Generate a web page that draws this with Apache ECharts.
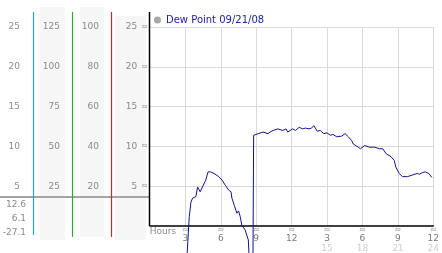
<!DOCTYPE html>
<html><head><meta charset="utf-8">
<script src="https://cdn.jsdelivr.net/npm/echarts@6/dist/echarts.min.js"></script>
<style>html,body{margin:0;padding:0;background:#fff}#c{width:442px;height:253px}</style>
</head><body><div id="c"></div>
<script>
const seriesName = 'Dew Point 09/21/08';
const hours = [2.8, 3.05, 3.28, 3.33, 3.47, 3.61, 3.89, 4.03, 4.11, 4.25, 4.44, 4.72, 4.92, 5.14, 5.42, 5.83, 6.11, 6.39, 6.67, 6.86, 6.94, 7.14, 7.36, 7.5, 7.64, 7.78, 8.06, 8.33, 8.52, 8.68,
  8.78, 8.83, 9.17, 9.58, 10.0, 10.17, 10.42, 10.58, 10.83, 11.25, 11.53, 11.67, 12.08, 12.33, 12.64, 12.92, 13.17, 13.47, 13.67, 13.89, 14.17, 14.42, 14.72, 15.0, 15.14, 15.28, 15.5, 15.83, 16.25, 16.53, 16.81,
  17.08, 17.22, 17.64, 17.83, 18.19, 18.61, 19.03, 19.44, 19.72, 20.0, 20.42, 20.69, 20.83, 21.11, 21.39, 21.81, 22.22, 22.64, 22.83, 23.06, 23.33, 23.61, 23.89];
const dewPoint = [-27.1, -6, 0.0, 1.2, 3.0, 3.5, 3.7, 4.9, 5.1, 4.3, 4.9, 5.75, 6.8, 6.8, 6.6, 6.2, 5.75, 5.1, 4.5, 4.3, 3.5, 2.6, 1.6, 1.9, 1.2, 0.1, -0.5, -1.75, -8, -16,
  11.4, 11.4, 11.6, 11.8, 11.6, 11.8, 12.0, 11.8, 12.2, 12.0, 12.2, 11.8, 12.2, 12.0, 12.4, 12.2, 12.3, 12.2, 12.3, 12.6, 11.9, 12.0, 11.6, 11.7, 11.9, 11.4, 11.5, 11.2, 11.3, 11.6, 11.2,
  10.75, 10.3, 9.9, 9.7, 10.1, 9.9, 9.9, 9.7, 9.7, 9.1, 8.7, 8.25, 7.4, 6.6, 6.2, 6.2, 6.4, 6.6, 6.5, 6.7, 6.8, 6.6, 6.1];
const hourLabels12 = ['', '3', '6', '9', '12', '3', '6', '9', '12'];
const hourLabels24 = ['', '', '', '', '', '15', '18', '21', '24'];

const FONT = 'DejaVu Sans';
const chart = echarts.init(document.getElementById('c'));
const data = hours.map((h, i) => [h, dewPoint[i]]);
const maxV = Math.max(...dewPoint), minV = Math.min(...dewPoint), lastV = dewPoint[dewPoint.length - 1];

function sideAxis(min, max, interval, offset) {
  return {
    type: 'value', gridIndex: 0, position: 'left', offset: offset, min: min, max: max, interval: interval,
    axisLine: {show: false}, axisTick: {show: false}, splitLine: {show: false},
    axisLabel: {showMinLabel: false, margin: 2, color: '#8a8a8a', fontSize: 9, fontFamily: FONT}
  };
}

chart.setOption({
  animation: false,
  textStyle: {fontFamily: FONT},
  legend: {
    left: 154, top: 15, padding: 0, itemWidth: 7, itemHeight: 7,
    data: [{name: seriesName, icon: 'circle', itemStyle: {color: '#a8a8a8'}}],
    textStyle: {color: '#2020a0', fontSize: 10, fontFamily: FONT}
  },
  grid: {left: 150, right: 3, top: 27, bottom: 27},
  xAxis: {
    type: 'value', min: 0, max: 24, interval: 3,
    name: 'Hours', nameLocation: 'start', nameGap: -32,
    nameTextStyle: {color: '#8a8a8a', fontSize: 9, fontFamily: FONT, verticalAlign: 'top', padding: [1, 0, 0, 0]},
    axisLine: {lineStyle: {color: '#000', width: 1.5}},
    axisTick: {show: false},
    splitLine: {showMinLine: false, lineStyle: {color: '#d9d9d9', width: 1}},
    axisLabel: {
      margin: 1,
      formatter: function (v) {
        const i = Math.round(v / 3);
        if (i === 0) return '';
        return '{m|≈}\n{n|' + hourLabels12[i] + '}\n{p|' + (hourLabels24[i] || ' ') + '}';
      },
      rich: {
        m: {fontSize: 8, lineHeight: 6, color: '#8c8c8c', fontFamily: FONT},
        n: {fontSize: 9, lineHeight: 11, color: '#7a7a7a', fontFamily: FONT},
        p: {fontSize: 9, lineHeight: 9, color: '#cfcfcf', fontFamily: FONT}
      }
    }
  },
  yAxis: [
    {
      type: 'value', min: 0, max: 25, interval: 5,
      axisLine: {show: false}, axisTick: {show: false},
      splitLine: {showMinLine: false, lineStyle: {color: '#d9d9d9', width: 1}},
      axisLabel: {
        showMinLabel: false, margin: 2,
        formatter: function (v) { return '{v|' + v + '}{m|≈}'; },
        rich: {
          v: {fontSize: 9, color: '#8a8a8a', fontFamily: FONT},
          m: {fontSize: 8, color: '#8c8c8c', fontFamily: FONT, padding: [0, 0, 0, 4]}
        }
      }
    },
    sideAxis(0, 100, 20, 49),
    sideAxis(0, 125, 25, 88),
    sideAxis(0, 25, 5, 128)
  ],
  series: [{
    name: seriesName, type: 'line', xAxisIndex: 0, yAxisIndex: 0,
    data: data, showSymbol: false, clip: false,
    lineStyle: {color: '#12128a', width: 1}, itemStyle: {color: '#12128a'}
  }],
  graphic: [
    {type: 'rect', z: -10, shape: {x: 40, y: 7, width: 25, height: 233}, style: {fill: '#f6f6f6'}},
    {type: 'rect', z: -10, shape: {x: 80, y: 7, width: 24, height: 230}, style: {fill: '#f6f6f6'}},
    {type: 'rect', z: -10, shape: {x: 115, y: 16, width: 31, height: 224}, style: {fill: '#f6f6f6'}},
    {type: 'line', z: 5, shape: {x1: 0, y1: 197, x2: 149, y2: 197}, style: {stroke: '#a4a4a4', lineWidth: 2}},
    {type: 'line', z: 6, shape: {x1: 33.5, y1: 12, x2: 33.5, y2: 235}, style: {stroke: '#22a4d4', lineWidth: 1.2}},
    {type: 'line', z: 6, shape: {x1: 72.5, y1: 12, x2: 72.5, y2: 237}, style: {stroke: '#2ea82e', lineWidth: 1.2}},
    {type: 'line', z: 6, shape: {x1: 111.5, y1: 12, x2: 111.5, y2: 237}, style: {stroke: '#c02c2c', lineWidth: 1.2}},
    {type: 'line', z: 6, shape: {x1: 149.5, y1: 12, x2: 149.5, y2: 226}, style: {stroke: '#000', lineWidth: 1.5}},
    {type: 'text', z: 6, x: 26, y: 205, style: {text: maxV.toFixed(1), fill: '#8a8a8a', font: '9px "DejaVu Sans"', textAlign: 'right', textVerticalAlign: 'middle'}},
    {type: 'text', z: 6, x: 26, y: 219, style: {text: lastV.toFixed(1), fill: '#8a8a8a', font: '9px "DejaVu Sans"', textAlign: 'right', textVerticalAlign: 'middle'}},
    {type: 'text', z: 6, x: 26, y: 233, style: {text: minV.toFixed(1), fill: '#8a8a8a', font: '9px "DejaVu Sans"', textAlign: 'right', textVerticalAlign: 'middle'}}
  ]
});
</script></body></html>
